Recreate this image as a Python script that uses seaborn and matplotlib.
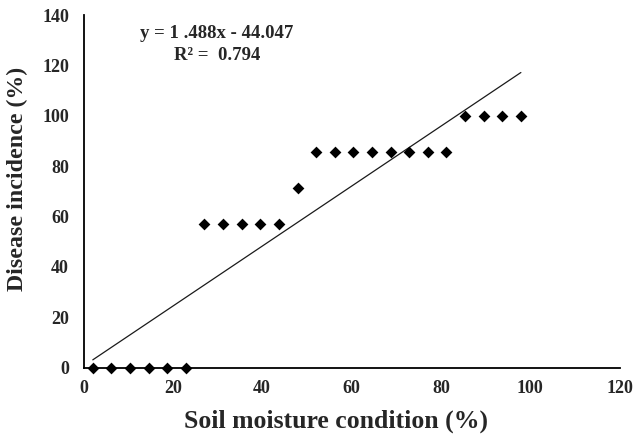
import matplotlib
matplotlib.use("Agg")
import matplotlib.pyplot as plt
import seaborn as sns
import numpy as np
import pandas as pd

# Data
soil_moisture = [2.08, 6.25, 10.42, 14.58, 18.75, 22.92,
                 27.08, 31.25, 35.42, 39.58, 43.75,
                 47.92,
                 52.08, 56.25, 60.42, 64.58, 68.75, 72.92, 77.08, 81.25,
                 85.42, 89.58, 93.75, 97.92]
disease_incidence = [0, 0, 0, 0, 0, 0,
                     57.14, 57.14, 57.14, 57.14, 57.14,
                     71.43,
                     85.71, 85.71, 85.71, 85.71, 85.71, 85.71, 85.71, 85.71,
                     100, 100, 100, 100]
x_ticks = [0, 20, 40, 60, 80, 100, 120]
y_ticks = [0, 20, 40, 60, 80, 100, 120, 140]
equation_text = "y = 1 .488x - 44.047"
r2_text = "R² =  0.794"

df = pd.DataFrame({"x": soil_moisture, "y": disease_incidence})

sns.set_style("white")
plt.rcParams['font.family'] = ['Liberation Serif', 'DejaVu Serif']
plt.rcParams['font.weight'] = 'bold'

W, H = 638, 442
fig = plt.figure(figsize=(6.38, 4.42), dpi=100)
left, right, top, bottom = 83.5, 619.5, 15.1, 367.5
ax = fig.add_axes([left / W, 1 - bottom / H, (right - left) / W, (bottom - top) / H])

sns.regplot(data=df, x="x", y="y", ax=ax, ci=None, scatter=False,
            line_kws={"color": "#1a1a1a", "linewidth": 0.9})
sns.scatterplot(data=df, x="x", y="y", ax=ax, marker="D", s=36,
                color="black", edgecolor="black", linewidth=0, zorder=3,
                clip_on=False)

ax.set_xlim(0, 120)
ax.set_ylim(0, 140)
ax.set_xticks(x_ticks)
ax.set_yticks(y_ticks)
ax.tick_params(axis='y', direction='out', length=4, width=1.2, color='black',
               labelsize=13, pad=6.5)
ax.tick_params(axis='x', direction='out', length=3, width=1.2, color='black',
               labelsize=13, pad=6)
for lab in ax.get_xticklabels() + ax.get_yticklabels():
    lab.set_fontweight('bold')

for side in ['top', 'right']:
    ax.spines[side].set_visible(False)
for side in ['left', 'bottom']:
    ax.spines[side].set_color('black')
    ax.spines[side].set_linewidth(1.3)
    ax.spines[side].set_zorder(4)

ax.set_xlabel("")
ax.set_ylabel("")
fig.text(336 / W, 1 - 421 / H, "Soil moisture condition (%)", fontsize=18.5,
         fontweight='bold', ha='center', va='center')
fig.text(17 / W, 1 - 178.5 / H, "Disease incidence (%)", fontsize=17.2,
         fontweight='bold', ha='center', va='center', rotation=90)

fig.text(216.5 / W, 1 - 33 / H, equation_text, fontsize=13.5, fontweight='bold',
         ha='center', va='center')
fig.text(217 / W, 1 - 55 / H, r2_text, fontsize=13.5, fontweight='bold',
         ha='center', va='center')

fig.savefig("out.png", dpi=100)
